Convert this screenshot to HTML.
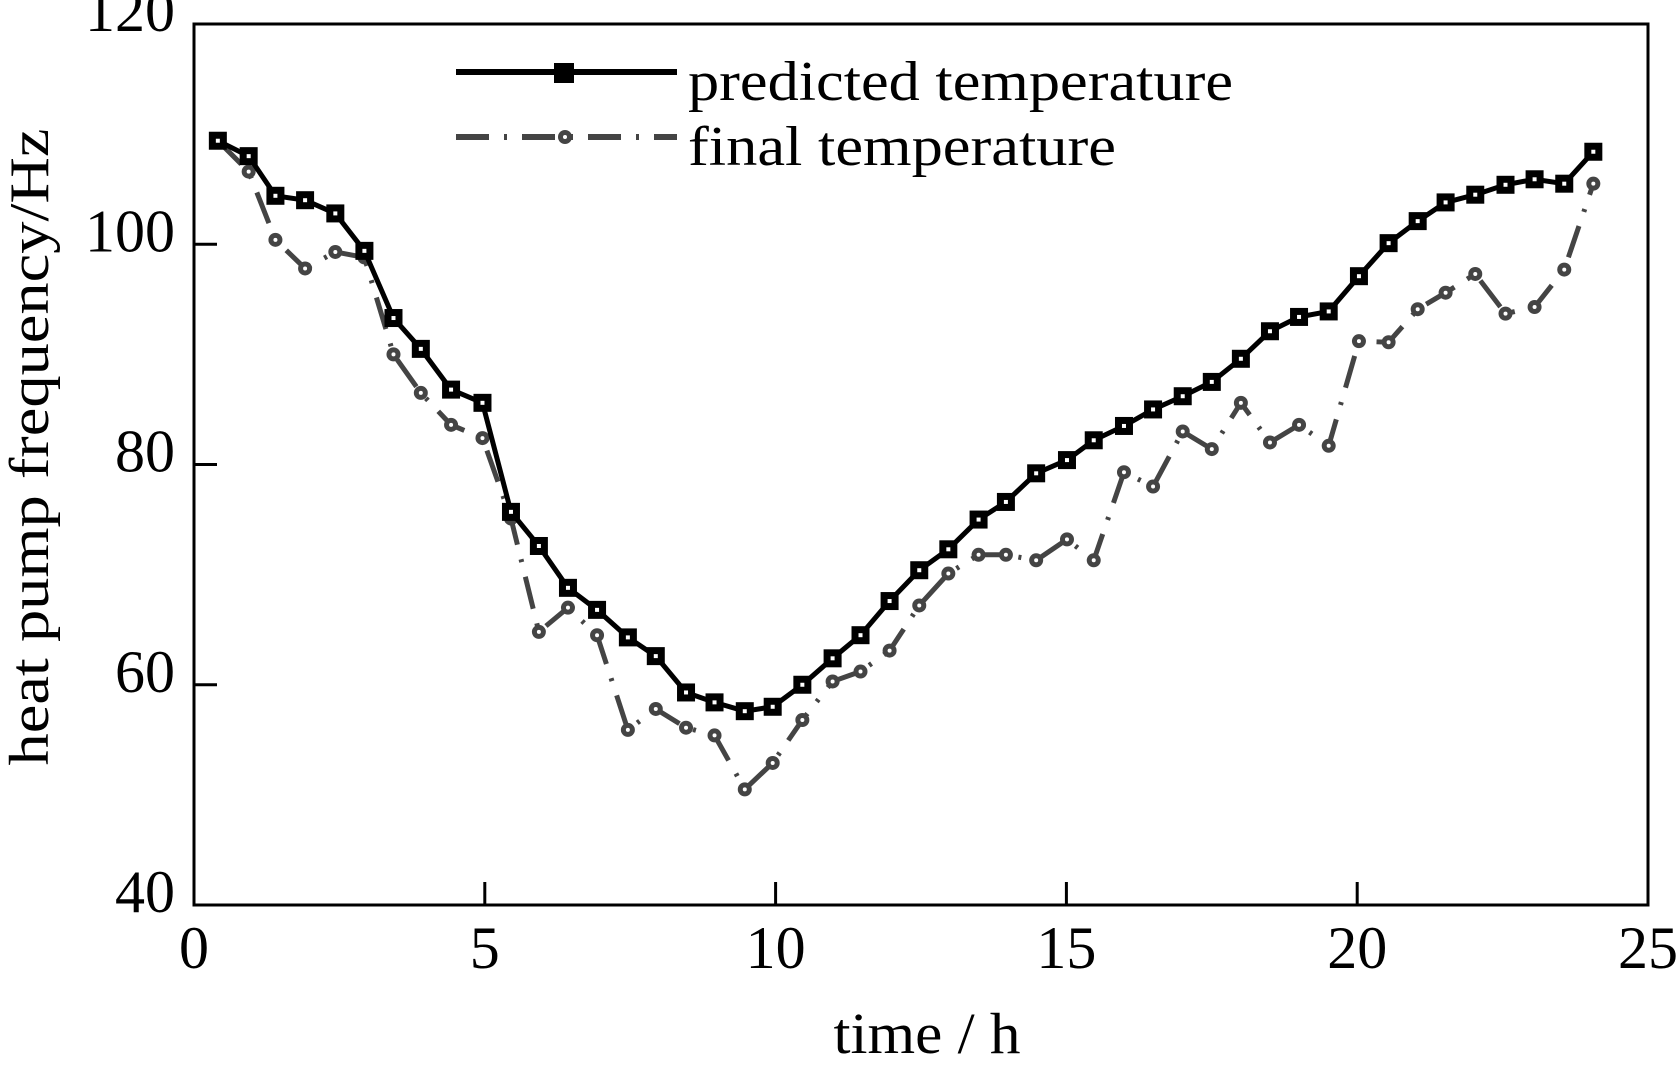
<!DOCTYPE html>
<html><head><meta charset="utf-8"><style>
html,body{margin:0;padding:0;background:#fff;}
svg{display:block;font-family:"Liberation Serif",serif;}
</style></head><body>
<svg id="chart" width="1679" height="1065" viewBox="0 0 1679 1065" xmlns="http://www.w3.org/2000/svg">
<rect x="194" y="24" width="1454" height="881" fill="none" stroke="#000" stroke-width="3"/>
<g id="ticks"></g>
<g id="series"></g>
<g>
<line x1="456" y1="72" x2="677" y2="72" stroke="#000" stroke-width="6"/>
<rect x="554" y="63" width="20" height="20" fill="#000"/>
<text x="688" y="100" font-size="56" textLength="545" lengthAdjust="spacingAndGlyphs">predicted temperature</text>
<line x1="456" y1="137" x2="677" y2="137" stroke="#444" stroke-width="6" stroke-dasharray="33,15,3,15"/>
<circle cx="565" cy="137" r="7" fill="#444"/>
<circle cx="565" cy="137" r="2" fill="#fff"/>
<text x="688" y="165" font-size="56" textLength="428" lengthAdjust="spacingAndGlyphs">final temperature</text>
</g>
<text transform="translate(48,447) rotate(-90)" text-anchor="middle" font-size="56" textLength="637" lengthAdjust="spacingAndGlyphs">heat pump frequency/Hz</text>
<text x="927" y="1053" text-anchor="middle" font-size="58" textLength="187" lengthAdjust="spacingAndGlyphs">time / h</text>
</svg>
<script>
const times=[0.41,0.94,1.4,1.91,2.43,2.93,3.43,3.9,4.42,4.96,5.45,5.93,6.43,6.93,7.46,7.94,8.46,8.95,9.47,9.95,10.46,10.98,11.46,11.96,12.47,12.97,13.49,13.96,14.48,15.01,15.47,15.99,16.49,17.0,17.5,18.0,18.5,19.0,19.51,20.03,20.54,21.04,21.52,22.03,22.55,23.05,23.56,24.06];
const predicted=[109.4,108,104.4,104,102.8,99.4,93.3,90.5,86.8,85.6,75.7,72.6,68.8,66.8,64.3,62.6,59.3,58.4,57.6,58,60,62.4,64.5,67.6,70.4,72.3,75,76.6,79.2,80.4,82.2,83.5,85,86.2,87.5,89.6,92.1,93.4,93.9,97.1,100.1,102.1,103.8,104.5,105.4,105.9,105.5,108.4];
const finalTemp=[109.4,106.6,100.4,97.8,99.3,98.8,90,86.5,83.6,82.4,75.1,64.8,67,64.5,55.9,57.8,56.1,55.4,50.5,52.9,56.8,60.3,61.2,63.1,67.2,70.1,71.8,71.8,71.3,73.2,71.3,79.3,78,83,81.4,85.6,82,83.6,81.7,91.2,91.1,94.1,95.6,97.3,93.7,94.3,97.7,105.5];
const xTicks=[0,5,10,15,20,25];
const yTicks=[40,60,80,100,120];
const NS="http://www.w3.org/2000/svg";
const X0=194,X1=1648,Y0=905,Y1=24;
function sx(v){return X0+(v-0)/(25-0)*(X1-X0);}
function sy(v){return Y0-(v-40)/(120-40)*(Y0-Y1);}
function mk(tag,attrs,parent){const e=document.createElementNS(NS,tag);for(const k in attrs)e.setAttribute(k,attrs[k]);parent.appendChild(e);return e;}
const tg=document.getElementById('ticks');
xTicks.forEach(t=>{
  const l=mk('line',{x1:sx(t),x2:sx(t),y1:Y0,y2:Y0-23,stroke:'#000','stroke-width':3},tg);
  
  
  const tx=mk('text',{x:sx(t),y:968,'text-anchor':'middle','font-size':60},tg);
  tx.textContent=t;
  
  
});
yTicks.forEach(t=>{
  const l=mk('line',{x1:X0,x2:X0+23,y1:sy(t),y2:sy(t),stroke:'#000','stroke-width':3},tg);
  
  
  const tx=mk('text',{x:175,y:sy(t)+7,'text-anchor':'end','font-size':60},tg);
  tx.textContent=t;
  
  
});
const sg=document.getElementById('series');
const pf=finalTemp.map((v,i)=>sx(times[i])+','+sy(v)).join(' ');
const lf=mk('polyline',{points:pf,fill:'none',stroke:'#444','stroke-width':5,'stroke-dasharray':'33,15,3,15'},sg);


finalTemp.forEach((v,i)=>{
  const c=mk('circle',{cx:sx(times[i]),cy:sy(v),r:7,fill:'#444'},sg);
  
  
  const d=mk('circle',{cx:sx(times[i]),cy:sy(v),r:2,fill:'#fff'},sg);
  
  
});
const pp=predicted.map((v,i)=>sx(times[i])+','+sy(v)).join(' ');
const lp=mk('polyline',{points:pp,fill:'none',stroke:'#000','stroke-width':5},sg);


predicted.forEach((v,i)=>{
  const r=mk('rect',{x:sx(times[i])-9,y:sy(v)-9,width:18,height:18,fill:'#000'},sg);
  
  
  const d=mk('rect',{x:sx(times[i])-2,y:sy(v)-2,width:4,height:4,fill:'#fff'},sg);
  
  
});
</script>
</body></html>
